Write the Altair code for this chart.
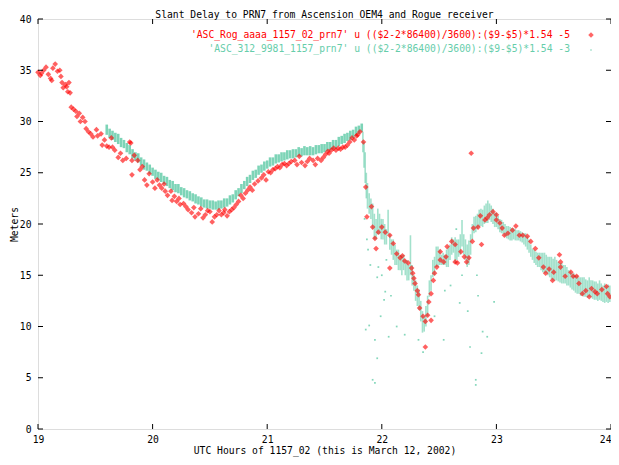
import altair as alt
import pandas as pd

# ---------------- data ----------------
red_t = [19.00,19.02,19.03,19.05,19.07,19.09,19.11,19.12,19.13,19.15,19.17,19.19,19.20,19.21,19.22,19.24,19.25,19.26,19.27,19.28,
         19.29,19.31,19.33,19.34,19.36,19.37,19.39,19.41,19.42,19.44,19.46,19.48,19.51,19.52,19.55,19.56,19.58,19.60,19.62,19.64,
         19.65,19.67,19.70,19.72,19.74,19.77,19.80,19.81,19.82,19.82,19.84,19.87,19.89,19.91,19.93,19.95,19.97,20.00,20.02,20.04,
         20.06,20.08,20.10,20.11,20.13,20.16,20.17,20.19,20.21,20.23,20.24,20.27,20.29,20.31,20.34,20.36,20.37,20.40,20.42,20.44,
         20.46,20.48,20.50,20.52,20.54,20.56,20.58,20.60,20.62,20.63,20.65,20.67,20.69,20.71,20.73,20.75,20.77,20.79,20.81,20.83,
         20.85,20.87,20.89,20.92,20.95,20.97,20.99,21.01,21.03,21.05,21.07,21.09,21.11,21.13,21.15,21.17,21.19,21.21,21.24,21.26,
         21.28,21.30,21.33,21.35,21.37,21.40,21.42,21.44,21.47,21.49,21.51,21.53,21.54,21.56,21.58,21.60,21.62,21.64,21.66,21.68,
         21.70,21.72,21.74,21.76,21.78,21.79,21.81,21.84,21.86,21.87,21.91,21.92,21.94,21.95,21.97,22.00,22.03,22.07,22.07,22.10,
         22.13,22.16,22.18,22.20,22.23,22.26,22.27,22.28,22.29,22.31,22.32,22.33,22.36,22.38,22.38,22.40,22.41,22.43,22.43,22.45,
         22.46,22.48,22.51,22.51,22.54,22.56,22.57,22.61,22.64,22.64,22.66,22.69,22.72,22.74,22.76,22.78,22.79,22.80,22.84,22.86,
         22.87,22.90,22.92,22.94,22.97,23.00,23.00,23.03,23.05,23.07,23.10,23.14,23.17,23.20,23.23,23.27,23.30,23.34,23.37,23.41,
         23.43,23.46,23.49,23.50,23.55,23.56,23.56,23.60,23.65,23.67,23.70,23.72,23.75,23.78,23.81,23.83,23.86,23.88,23.92,23.96,
         23.97,23.99]
red_v = [34.8,34.5,34.7,35.0,35.3,34.6,34.2,34.0,35.2,35.6,34.9,35.0,34.4,33.8,33.3,33.6,33.4,32.9,33.8,32.8,
         31.4,31.2,31.0,30.5,30.8,30.0,30.4,30.0,29.3,29.0,28.8,28.5,29.2,28.6,28.8,27.7,28.2,27.6,27.5,28.4,
         27.5,27.2,26.5,26.9,26.2,26.4,28.0,27.9,26.2,24.8,26.7,26.2,25.3,25.6,24.3,23.8,24.9,24.1,23.5,24.3,
         23.8,23.5,23.9,23.2,22.8,23.2,22.3,22.7,22.2,22.5,21.9,22.0,21.7,21.4,21.1,21.6,20.7,21.0,21.5,20.6,
         20.9,21.3,21.2,20.2,20.7,20.9,21.3,20.9,21.1,21.4,20.8,21.2,21.4,21.6,21.9,22.2,22.8,22.5,23.0,23.3,
         23.6,23.3,23.9,24.2,24.5,24.8,24.3,25.1,25.0,25.3,25.4,25.6,25.5,25.8,25.9,25.7,25.9,26.1,26.2,25.8,
         26.6,26.0,25.7,26.1,26.4,26.2,25.8,26.4,26.2,26.5,26.8,27.1,26.9,27.2,27.4,27.2,27.4,27.3,27.5,27.5,
         27.7,28.0,28.4,28.2,28.6,28.7,29.0,28.0,23.6,20.7,21.7,19.7,18.6,17.6,19.2,19.7,19.2,18.9,15.7,18.1,
         17.1,16.7,16.9,16.4,16.2,15.7,15.2,14.7,14.2,13.5,13.1,11.8,11.0,10.5,8.0,11.1,12.4,10.6,13.2,14.5,
         15.2,15.8,16.5,17.3,16.3,16.8,17.8,18.3,18.0,16.3,16.2,17.3,16.8,16.3,16.7,26.9,18.3,19.6,19.7,20.8,
         18.0,20.4,20.6,20.9,21.2,20.4,20.9,20.1,19.6,18.9,19.1,19.4,19.8,18.9,18.9,18.8,18.3,17.6,16.7,15.8,
         15.2,15.6,14.5,15.3,17.0,16.3,15.8,14.9,15.3,14.9,14.9,14.2,13.2,13.5,12.9,13.7,13.4,13.2,13.6,13.9,
         13.2,12.9]

green_t = [19.600,19.625,19.650,19.675,19.700,19.725,19.750,19.775,19.800,19.825,19.850,19.875,19.900,19.925,19.950,19.975,
           20.000,20.025,20.050,20.075,20.100,20.125,20.150,20.175,20.200,20.225,20.250,20.275,20.300,20.325,20.350,20.375,
           20.400,20.425,20.450,20.475,20.500,20.525,20.550,20.575,20.600,20.625,20.650,20.675,20.700,20.725,20.750,20.775,
           20.800,20.825,20.850,20.875,20.900,20.925,20.950,20.975,21.000,21.025,21.050,21.075,21.100,21.125,21.150,21.175,
           21.200,21.225,21.250,21.275,21.300,21.325,21.350,21.375,21.400,21.425,21.450,21.475,21.500,21.525,21.550,21.575,
           21.600,21.625,21.650,21.675,21.700,21.725,21.750,21.775,21.800,21.825,
           21.835,21.845,21.855,21.865,21.875,21.890,21.905,21.920,21.935,21.950,21.965,21.980,21.995,22.010,22.025,22.040,
           22.055,22.070,22.085,22.100,22.115,22.130,22.145,22.160,22.175,22.190,22.205,22.220,22.235,22.250,22.265,22.280,
           22.295,22.310,22.325,22.340,22.355,22.370,22.385,22.400,22.415,22.430,22.445,22.460,22.475,22.490,22.505,22.520,
           22.535,22.550,22.565,22.580,22.595,22.610,22.625,22.640,22.655,22.670,22.685,22.700,22.715,22.730,22.745,22.760,
           22.775,22.790,22.805,22.820,22.835,22.850,22.865,22.880,22.895,22.910,22.925,22.940,22.955,22.970,22.985,23.000,
           23.015,23.030,23.045,23.060,23.075,23.090,23.105,23.120,23.135,23.150,23.165,23.180,23.195,23.210,23.225,23.240,
           23.255,23.270,23.285,23.300,23.315,23.330,23.345,23.360,23.375,23.390,23.405,23.420,23.435,23.450,23.465,23.480,
           23.495,23.510,23.525,23.540,23.555,23.570,23.585,23.600,23.615,23.630,23.645,23.660,23.675,23.690,23.705,23.720,
           23.735,23.750,23.765,23.780,23.795,23.810,23.825,23.840,23.855,23.870,23.885,23.900,23.915,23.930,23.945,23.960,
           23.975,23.990]
green_lo = [28.7,28.4,28.2,28.0,27.8,27.5,27.4,27.0,26.8,26.4,26.2,26.0,25.7,25.3,25.2,24.9,
            24.7,24.4,24.3,24.1,23.9,23.7,23.5,23.3,23.1,23.0,22.8,22.6,22.5,22.3,22.2,22.0,
            21.9,21.7,21.6,21.5,21.5,21.4,21.4,21.4,21.5,21.6,21.7,21.9,22.1,22.4,22.7,23.0,
            23.4,23.7,24.0,24.3,24.5,24.8,25.0,25.2,25.4,25.6,25.7,25.9,26.0,26.1,26.2,26.3,
            26.4,26.4,26.5,26.6,26.6,26.7,26.7,26.7,26.7,26.8,26.9,26.9,27.0,27.1,27.2,27.3,
            27.4,27.6,27.8,27.9,28.1,28.2,28.4,28.6,28.8,29.0,
            27.0,25.5,24.0,22.5,21.5,21.0,20.5,19.5,18.5,18.5,19.0,19.0,18.5,18.5,18.0,18.0,
            19.0,17.5,17.0,16.5,16.0,16.0,15.5,15.5,15.0,15.5,15.0,14.5,14.5,15.0,14.0,13.5,
            12.5,12.0,11.6,10.5,9.4,9.5,10.0,11.0,12.9,13.5,14.8,15.0,15.8,15.8,16.0,16.0,
            16.0,16.0,15.8,15.8,16.5,17.0,17.2,16.2,16.5,16.8,17.0,17.8,17.0,16.5,15.8,16.0,
            17.0,18.5,19.1,19.2,19.5,19.7,19.8,19.7,20.0,20.1,20.1,20.4,20.2,20.0,19.7,19.7,
            19.5,19.2,19.1,19.0,18.8,18.6,18.5,18.4,18.4,18.5,18.4,18.4,18.4,18.3,18.2,18.0,
            17.8,17.5,17.2,16.8,16.5,16.2,16.0,15.8,15.8,15.5,15.3,15.2,15.2,15.0,14.8,14.6,
            14.5,14.5,14.5,14.4,14.3,14.2,14.2,14.2,14.0,14.0,13.8,13.6,13.5,13.3,13.2,13.2,
            13.0,13.0,12.9,12.9,12.8,12.9,12.9,12.7,12.6,12.6,12.5,12.6,12.5,12.4,12.3,12.4,
            12.3,12.4]
green_hi = [29.7,29.3,29.1,28.9,28.8,28.4,28.2,27.9,27.7,27.3,27.0,26.9,26.5,26.3,26.0,25.8,
            25.5,25.3,25.1,25.0,24.7,24.6,24.3,24.2,23.9,23.9,23.6,23.5,23.3,23.2,23.0,22.9,
            22.7,22.6,22.4,22.4,22.3,22.3,22.2,22.3,22.3,22.5,22.5,22.8,22.9,23.3,23.5,23.9,
            24.2,24.6,24.8,25.2,25.3,25.7,25.8,26.1,26.2,26.5,26.5,26.8,26.8,27.0,27.0,27.2,
            27.2,27.3,27.3,27.5,27.4,27.6,27.5,27.6,27.5,27.7,27.7,27.8,27.8,28.0,28.0,28.2,
            28.2,28.5,28.6,28.8,28.9,29.1,29.2,29.5,29.6,29.8,
            29.0,28.0,27.0,25.0,24.0,23.0,22.5,22.0,21.0,20.5,21.5,21.0,20.5,20.5,20.0,19.5,
            21.4,19.0,18.5,18.5,18.0,17.5,17.5,17.0,17.0,17.0,16.5,16.5,16.0,18.9,16.0,15.0,
            14.5,14.0,13.6,12.5,11.5,11.0,12.0,13.0,14.5,15.0,16.5,16.8,17.8,17.8,17.5,17.0,
            17.2,17.0,17.5,17.8,18.0,18.7,18.5,18.7,18.5,18.5,19.0,20.4,19.0,18.5,18.0,18.4,
            19.0,20.0,20.7,20.8,21.0,21.4,21.5,21.4,21.8,22.0,22.3,22.0,21.8,21.5,21.1,21.1,
            20.8,20.5,20.4,20.2,20.0,19.8,19.8,19.7,19.6,19.6,19.5,19.4,19.4,19.3,19.2,19.1,
            19.1,18.8,18.5,18.0,17.6,17.5,17.3,17.2,17.2,17.2,17.2,17.2,17.0,16.8,16.8,16.8,
            16.6,16.8,16.5,16.3,16.2,16.2,16.0,16.0,15.8,15.5,15.4,15.2,15.2,15.0,15.0,14.8,
            14.8,14.8,14.8,14.6,14.5,14.8,14.5,14.5,14.4,14.4,14.2,14.5,14.2,14.0,14.2,14.0,
            14.1,14.0]

green_out_t = [21.86,21.92,21.96,21.94,21.99,22.03,22.06,22.08,22.13,21.97,21.96,22.32,22.54,22.68,22.77,22.82,
               22.82,22.88,22.92,22.98,22.87,22.83,22.02,22.20,21.88,21.90,22.00,22.60,22.70,22.55,22.46,22.84,
               22.75,21.89,21.94,21.85,21.87,22.04,22.36,22.65]
green_out_v = [9.7,4.8,6.9,8.7,11.0,13.4,9.0,13.0,10.0,15.8,14.8,8.7,8.7,12.3,8.0,4.8,
               4.3,9.5,9.0,12.4,7.4,15.0,12.6,9.2,17.5,16.0,15.0,14.0,15.0,13.5,11.0,13.0,
               11.5,10.1,4.5,20.5,18.5,16.5,7.5,19.5]

legend_labels = ["'ASC_Rog_aaaa_1157_02_prn7' u (($2-2*86400)/3600):($9-$5)*1.54 -5",
                 "'ASC_312_9981_1157_prn7' u (($2-2*86400)/3600):($9-$5)*1.54 -3"]

x_ticks = [19, 20, 21, 22, 23, 24]
y_ticks = [0, 5, 10, 15, 20, 25, 30, 35, 40]

title_text = "Slant Delay to PRN7 from Ascension OEM4 and Rogue receiver"
x_title = "UTC Hours of 1157_02 (this is March 12, 2002)"
y_title = "Meters"

# ---------------- style ----------------
RED = "#ff0000"
GREEN = "#66cdaa"
FONT = "DejaVu Sans Mono"
FS = 9.7
W, H = 573, 410

red_df = pd.DataFrame({"t": red_t, "v": red_v})
green_df = pd.DataFrame({"t": green_t, "lo": green_lo, "hi": green_hi})
gout_df = pd.DataFrame({"t": green_out_t, "v": green_out_v})
xt_df = pd.DataFrame({"t": x_ticks})
yt_df = pd.DataFrame({"v": y_ticks})

xs = alt.Scale(domain=[19, 24], nice=False, zero=False)
ys = alt.Scale(domain=[0, 40], nice=False, zero=False)

xaxis = alt.Axis(values=x_ticks, format="d", title=x_title, labelFont=FONT, labelFontSize=FS,
                 titleFont=FONT, titleFontSize=FS, titleFontWeight="normal", ticks=False,
                 domain=False, grid=False, labelPadding=5, labelColor="black",
                 titleColor="black", labelFlush=False, titleY=21, titleBaseline="middle",
                 labelAlign=alt.expr("datum.value >= 24 ? 'right' : 'center'"))
yaxis = alt.Axis(values=y_ticks, format="d", title=y_title, labelFont=FONT, labelFontSize=FS,
                 titleFont=FONT, titleFontSize=FS, titleFontWeight="normal", ticks=False,
                 domain=False, grid=False, labelPadding=7, labelColor="black",
                 titleColor="black", labelFlush=False, titleX=-24, titleY=H / 2,
                 titleAlign="center", titleBaseline="middle")

green_band1 = alt.Chart(green_df).transform_filter("datum.t < 21.83").mark_rule(
    color=GREEN, strokeWidth=2.6, opacity=0.85).encode(
    x=alt.X("t:Q", scale=xs, axis=xaxis),
    y=alt.Y("lo:Q", scale=ys, axis=yaxis),
    y2="hi:Q",
)
green_band2 = alt.Chart(green_df).transform_filter("datum.t >= 21.83").mark_rule(
    color=GREEN, strokeWidth=1.6, opacity=0.6).encode(
    x=alt.X("t:Q", scale=xs), y=alt.Y("lo:Q", scale=ys), y2="hi:Q",
)
green_pts = alt.Chart(gout_df).mark_square(color=GREEN, size=3, opacity=0.8).encode(
    x=alt.X("t:Q", scale=xs), y=alt.Y("v:Q", scale=ys)
)
red_pts = alt.Chart(red_df).mark_point(shape="diamond", filled=True, color=RED, size=32,
                                        opacity=0.62).encode(
    x=alt.X("t:Q", scale=xs), y=alt.Y("v:Q", scale=ys)
)

TL = 5
tick_b = alt.Chart(xt_df).mark_rule(color="black").encode(
    x=alt.X("t:Q", scale=xs), y=alt.value(H), y2=alt.value(H - TL))
tick_t = alt.Chart(xt_df).mark_rule(color="black").encode(
    x=alt.X("t:Q", scale=xs), y=alt.value(0), y2=alt.value(TL))
tick_l = alt.Chart(yt_df).mark_rule(color="black").encode(
    y=alt.Y("v:Q", scale=ys), x=alt.value(0), x2=alt.value(TL))
tick_r = alt.Chart(yt_df).mark_rule(color="black").encode(
    y=alt.Y("v:Q", scale=ys), x=alt.value(W), x2=alt.value(W - TL))

leg_df = pd.DataFrame({"label": legend_labels, "row": [0, 1]})
leg1_text = alt.Chart(leg_df).transform_filter("datum.row == 0").mark_text(
    align="right", baseline="middle", font=FONT, fontSize=FS, color=RED).encode(
    text="label:N", x=alt.value(532), y=alt.value(16))
leg2_text = alt.Chart(leg_df).transform_filter("datum.row == 1").mark_text(
    align="right", baseline="middle", font=FONT, fontSize=FS, color=GREEN).encode(
    text="label:N", x=alt.value(532), y=alt.value(30))
leg1_sym = alt.Chart(leg_df).transform_filter("datum.row == 0").mark_point(
    shape="diamond", filled=True, color=RED, size=30, opacity=0.6).encode(
    x=alt.value(553), y=alt.value(16))
leg2_sym = alt.Chart(leg_df).transform_filter("datum.row == 1").mark_square(
    color=GREEN, size=2).encode(x=alt.value(553), y=alt.value(31))

chart = alt.layer(
    green_band1, green_band2, green_pts, red_pts, tick_b, tick_t, tick_l, tick_r,
    leg1_text, leg2_text, leg1_sym, leg2_sym
).properties(
    width=W, height=H,
    title=alt.TitleParams(title_text, font=FONT, fontSize=FS, fontWeight="normal",
                          anchor="middle", offset=-6, color="black"),
    autosize=alt.AutoSizeParams(type="none"),
    padding={"left": 30, "top": 11, "right": 0, "bottom": 28},
).configure_view(stroke="black", strokeWidth=1).configure(background="white")

chart.save("out.html", embed_options={"renderer": "svg", "actions": False})
